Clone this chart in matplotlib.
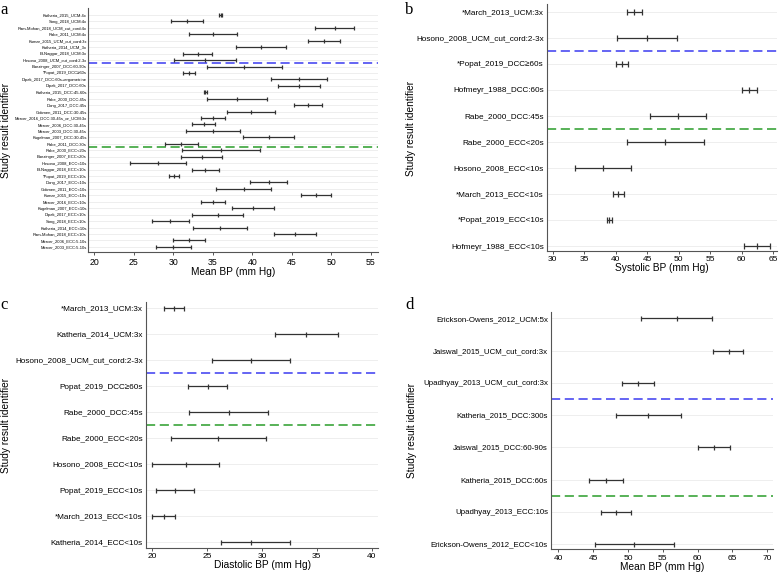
import matplotlib
matplotlib.use("Agg")
import matplotlib.pyplot as plt

plt.rcParams['font.family'] = ['Liberation Sans', 'DejaVu Sans']

# ---- panel a: mean BP, all studies ----
a_labels = [
    "Katheria_2015_UCM:4x", "Song_2018_UCM:4x", "Ram-Mohan_2018_UCM_cut_cord:4x",
    "Rabe_2011_UCM:4x", "Kumar_2015_UCM_cut_cord:3x", "Katheria_2014_UCM_3x",
    "El-Naggar_2018_UCM:3x", "Hosono_2008_UCM_cut_cord:2-3x",
    "Baezinger_2007_DCC:60-90s", "*Popat_2019_DCC\u226560s",
    "Dipak_2017_DCC:60s+ergometrine", "Dipak_2017_DCC:60s",
    "Katheria_2015_DCC:45-60s", "Rabe_2000_DCC:45s", "Dong_2017_DCC:45s",
    "Gokmen_2011_DCC:30-45s", "Mercer_2016_DCC:30-45s_or_UCM:3x",
    "Mercer_2006_DCC:30-45s", "Mercer_2003_DCC:30-45s",
    "Kugelman_2007_DCC:30-45s", "Rabe_2011_DCC:30s",
    "Rabe_2000_ECC<20s", "Baezinger_2007_ECC<20s", "Hosono_2008_ECC<10s",
    "El-Naggar_2018_ECC<10s", "*Popat_2019_ECC<10s", "Dong_2017_ECC<10s",
    "Gokmen_2011_ECC<10s", "Kumar_2015_ECC<10s", "Mercer_2016_ECC<10s",
    "Kugelman_2007_ECC<10s", "Dipak_2017_ECC<10s", "Song_2018_ECC<10s",
    "Katheria_2014_ECC<10s", "Ram-Mohan_2018_ECC<10s",
    "Mercer_2006_ECC:5-10s", "Mercer_2003_ECC:5-10s",
]
a_lo = [35.8, 29.7, 47.9, 32.0, 47.0, 37.9, 31.2, 30.1, 34.2, 31.25, 42.3, 43.2,
        33.9, 34.2, 45.3, 36.8, 33.5, 32.4, 31.55, 38.85, 28.9, 31.1, 30.95, 24.5,
        32.35, 29.4, 39.7, 35.45, 46.2, 33.55, 37.4, 32.3, 27.35, 32.5, 42.7, 30.0, 27.75]
a_mean = [36.0, 31.75, 50.4, 35.05, 49.05, 41.05, 33.1, 34.05, 39.0, 32.0, 45.85, 45.85,
          34.05, 38.05, 47.05, 39.85, 35.05, 33.85, 35.05, 42.05, 31.0, 36.0, 33.6, 28.0,
          34.05, 30.05, 42.05, 38.9, 48.05, 35.05, 40.05, 35.65, 29.6, 35.9, 45.4, 31.95, 30.0]
a_hi = [36.2, 33.8, 52.9, 38.05, 51.1, 44.25, 34.85, 37.95, 43.75, 32.8, 49.4, 48.55,
        34.2, 41.9, 48.8, 42.9, 36.6, 35.3, 38.5, 45.25, 33.15, 41.0, 36.2, 31.55,
        35.75, 30.7, 44.4, 42.3, 49.9, 36.55, 42.75, 38.85, 31.95, 39.3, 48.05, 33.95, 32.25]

# ---- panel b: systolic BP ----
b_labels = ["*March_2013_UCM:3x", "Hosono_2008_UCM_cut_cord:2-3x",
            "*Popat_2019_DCC\u226560s", "Hofmeyr_1988_DCC:60s", "Rabe_2000_DCC:45s",
            "Rabe_2000_ECC<20s", "Hosono_2008_ECC<10s", "*March_2013_ECC<10s",
            "*Popat_2019_ECC<10s", "Hofmeyr_1988_ECC<10s"]
b_lo = [41.75, 40.15, 40.0, 60.0, 45.4, 41.85, 33.55, 39.55, 38.55, 60.3]
b_mean = [42.95, 44.9, 41.0, 61.2, 49.9, 47.9, 37.95, 40.4, 38.95, 62.4]
b_hi = [44.1, 49.75, 42.0, 62.35, 54.35, 54.0, 42.35, 41.3, 39.4, 64.5]

# ---- panel c: diastolic BP ----
c_labels = ["*March_2013_UCM:3x", "Katheria_2014_UCM:3x", "Hosono_2008_UCM_cut_cord:2-3x",
            "Popat_2019_DCC\u226560s", "Rabe_2000_DCC:45s", "Rabe_2000_ECC<20s",
            "Hosono_2008_ECC<10s", "Popat_2019_ECC<10s", "*March_2013_ECC<10s",
            "Katheria_2014_ECC<10s"]
c_lo = [21.1, 31.15, 25.5, 23.3, 23.4, 21.7, 20.0, 20.35, 20.0, 26.3]
c_mean = [22.0, 34.0, 29.0, 25.05, 27.05, 26.0, 23.05, 22.05, 21.05, 29.0]
c_hi = [22.95, 36.9, 32.55, 26.8, 30.6, 30.4, 26.1, 23.8, 22.1, 32.6]

# ---- panel d: mean BP ----
d_labels = ["Erickson-Owens_2012_UCM:5x", "Jaiswal_2015_UCM_cut_cord:3x",
            "Upadhyay_2013_UCM_cut_cord:3x", "Katheria_2015_DCC:300s",
            "Jaiswal_2015_DCC:60-90s", "Katheria_2015_DCC:60s",
            "Upadhyay_2013_ECC:10s", "Erickson-Owens_2012_ECC<10s"]
d_lo = [51.8, 62.25, 49.2, 48.25, 60.05, 44.4, 46.15, 45.2]
d_mean = [57.0, 64.45, 51.5, 52.9, 62.4, 46.85, 48.3, 50.9]
d_hi = [62.1, 66.55, 53.75, 57.55, 64.65, 49.35, 50.4, 56.6]

W, H = 779, 575
fig = plt.figure(figsize=(W / 100, H / 100), dpi=100)


def px_axes(l, t, r, b):
    return fig.add_axes([l / W, 1 - b / H, (r - l) / W, (b - t) / H])


def forest(ax, labels, lo, mean, hi, xlim, ylim, xticks, xlabel, lines,
           lab_fs, tick_fs, cap, lab_pad):
    n = len(labels)
    ys = list(range(n))
    for y in ys:
        ax.axhline(y, color="#ebebeb", lw=0.6, zorder=0)
    xerr = [[m - l for m, l in zip(mean, lo)], [h - m for h, m in zip(hi, mean)]]
    ax.errorbar(mean, ys, xerr=xerr, fmt="|", color="#333333", ecolor="#333333",
                elinewidth=0.9, capsize=cap, capthick=0.9, markersize=cap * 2,
                markeredgewidth=0.9, zorder=3)
    for pos, col in lines:
        ax.axhline(pos, color=col, lw=1.1, ls=(0, (6, 3)), zorder=2)
    ax.set_xlim(*xlim)
    ax.set_ylim(*ylim)
    ax.set_yticks(ys)
    ax.set_yticklabels(labels, fontsize=lab_fs)
    ax.set_xticks(xticks)
    ax.tick_params(axis="y", length=0, pad=lab_pad)
    ax.tick_params(axis="x", labelsize=tick_fs, length=2.5, width=0.7,
                   color="#555555", pad=1.5)
    ax.set_xlabel(xlabel, fontsize=7.3, labelpad=0)
    for s in ("top", "right"):
        ax.spines[s].set_visible(False)
    for s in ("left", "bottom"):
        ax.spines[s].set_color("#555555")
        ax.spines[s].set_linewidth(0.8)


blue = "#3a3af0"
green = "#2a9d2a"

ax_a = px_axes(88.3, 8.3, 378, 252)
forest(ax_a, a_labels, a_lo, a_mean, a_hi, (19.24, 55.9), (36.8, -1.04),
       range(20, 56, 5), "Mean BP (mm Hg)", [(7.5, blue), (20.5, green)],
       3.0, 6.3, 1.5, 1.1)

ax_b = px_axes(546.7, 4, 777, 250.7)
forest(ax_b, b_labels, b_lo, b_mean, b_hi, (29.05, 65.6), (9.18, -0.3),
       range(30, 66, 5), "Systolic BP (mm Hg)", [(1.5, blue), (4.5, green)],
       5.9, 6.0, 2.1, 2.0)

ax_c = px_axes(145.7, 301.7, 378.3, 547.7)
forest(ax_c, c_labels, c_lo, c_mean, c_hi, (19.42, 40.6), (9.21, -0.25),
       range(20, 41, 5), "Diastolic BP (mm Hg)", [(2.5, blue), (4.5, green)],
       5.9, 6.0, 1.8, 2.0)

ax_d = px_axes(550.7, 311.7, 773.3, 549.3)
forest(ax_d, d_labels, d_lo, d_mean, d_hi, (38.9, 70.86), (7.165, -0.205),
       range(40, 71, 5), "Mean BP (mm Hg)", [(2.5, blue), (5.5, green)],
       5.65, 6.0, 1.8, 2.0)

# y labels and panel letters
for x, y in [(6, 130), (411, 128), (6, 425), (412, 430)]:
    fig.text(x / W, 1 - y / H, "Study result identifier", rotation=90,
             ha="center", va="center", fontsize=7.3)
for x, y, s in [(0, 2, "a"), (405, 2, "b"), (0, 297, "c"), (405, 297, "d")]:
    fig.text(x / W, 1 - y / H, s, ha="left", va="top", fontsize=12,
             family="Liberation Serif")

fig.savefig("out.png", dpi=100)
